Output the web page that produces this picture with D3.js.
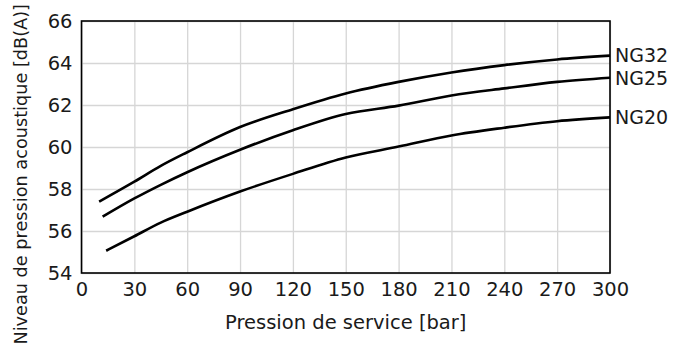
<!DOCTYPE html>
<html>
<head>
<meta charset="utf-8">
<script src="https://cdn.jsdelivr.net/npm/d3@7"></script>
<style>
  body { margin: 0; background: #fff; }
  svg text { font-family: 'DejaVu Sans', sans-serif; fill: #1a1a1a; }
</style>
</head>
<body>
<div id="chart"></div>
<script>
// values
const xTicks = [0, 30, 60, 90, 120, 150, 180, 210, 240, 270, 300];
const yTicks = [54, 56, 58, 60, 62, 64, 66];
const seriesNames = ['NG32', 'NG25', 'NG20'];
const pressure = [null, 30, 45, 60, 90, 120, 150, 180, 210, 240, 270, 300];
const startPressure = [10, 12, 14];
const ng32 = [57.4, 58.35, 59.1, 59.75, 60.95, 61.8, 62.55, 63.1, 63.55, 63.9, 64.17, 64.35];
const ng25 = [56.68, 57.55, 58.2, 58.8, 59.87, 60.8, 61.57, 61.97, 62.45, 62.79, 63.1, 63.3];
const ng20 = [55.06, 55.75, 56.4, 56.92, 57.88, 58.72, 59.5, 60.02, 60.55, 60.92, 61.23, 61.41];

const width = 686, height = 344;
const margin = { top: 21, right: 76, bottom: 71, left: 81.5 };
const w = width - margin.left - margin.right;
const h = height - margin.top - margin.bottom;

const svg = d3.select('#chart')
  .append('svg')
  .attr('width', width)
  .attr('height', height);

const g = svg.append('g')
  .attr('transform', 'translate(' + margin.left + ',' + margin.top + ')');

const x = d3.scaleLinear().domain([0, 300]).range([0, w]);
const y = d3.scaleLinear().domain([54, 66]).range([h, 0]);

// grid
g.append('g')
  .call(d3.axisBottom(x).tickValues(xTicks).tickSize(h).tickFormat(''))
  .call(a => a.select('.domain').remove())
  .call(a => a.selectAll('line').attr('stroke', '#d6d6d6').attr('stroke-width', 1.3));

g.append('g')
  .call(d3.axisLeft(y).tickValues(yTicks).tickSize(-w).tickFormat(''))
  .call(a => a.select('.domain').remove())
  .call(a => a.selectAll('line').attr('stroke', '#d6d6d6').attr('stroke-width', 1.3));

// tick labels
g.append('g')
  .attr('transform', 'translate(0,' + h + ')')
  .call(d3.axisBottom(x).tickValues(xTicks).tickSize(0).tickPadding(9))
  .call(a => a.select('.domain').remove())
  .call(a => a.selectAll('text').attr('font-size', 19.5).style('font-family', "'DejaVu Sans', sans-serif").attr('fill', '#1a1a1a'));

g.append('g')
  .call(d3.axisLeft(y).tickValues(yTicks).tickSize(0).tickPadding(9))
  .call(a => a.select('.domain').remove())
  .call(a => a.selectAll('text').attr('font-size', 19.5).style('font-family', "'DejaVu Sans', sans-serif").attr('fill', '#1a1a1a'));

// frame
g.append('rect')
  .attr('width', w)
  .attr('height', h)
  .attr('fill', 'none')
  .attr('stroke', '#000')
  .attr('stroke-width', 1.6);

// curves
const allSeries = [ng32, ng25, ng20].map((vals, i) => vals.map((v, j) => ({
  p: j === 0 ? startPressure[i] : pressure[j],
  v: v
})));

const line = d3.line()
  .curve(d3.curveMonotoneX)
  .x(d => x(d.p))
  .y(d => y(d.v));

g.selectAll('.curve')
  .data(allSeries)
  .enter()
  .append('path')
  .attr('class', 'curve')
  .attr('fill', 'none')
  .attr('stroke', '#000')
  .attr('stroke-width', 2.6)
  .attr('d', line);

// series labels at the line ends
g.selectAll('.series-label')
  .data(allSeries)
  .enter()
  .append('text')
  .attr('class', 'series-label')
  .attr('x', w + 5)
  .attr('y', d => y(d[d.length - 1].v))
  .attr('dy', '0.36em')
  .attr('font-size', 19)
  .text((d, i) => seriesNames[i]);

// axis titles
svg.append('text')
  .attr('x', margin.left + w / 2)
  .attr('y', 329)
  .attr('text-anchor', 'middle')
  .attr('font-size', 19.5)
  .text('Pression de service [bar]');

svg.append('text')
  .attr('transform', 'translate(26.5,4) rotate(-90)')
  .attr('text-anchor', 'end')
  .attr('font-size', 17.7)
  .text('Niveau de pression acoustique [dB(A)]');
</script>
</body>
</html>
